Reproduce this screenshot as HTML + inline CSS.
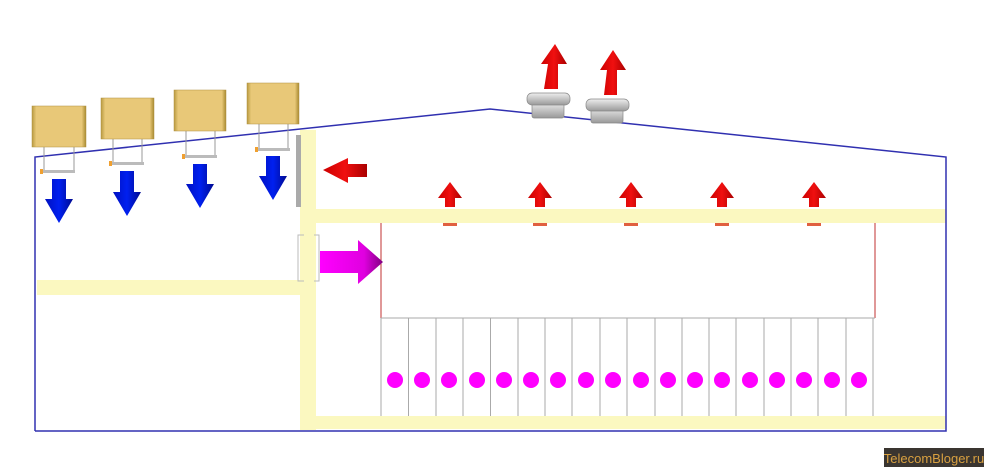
<!DOCTYPE html><html><head><style>body{margin:0;background:#fff}svg{display:block}</style></head><body>
<svg width="984" height="467" viewBox="0 0 984 467" xmlns="http://www.w3.org/2000/svg">
<defs>
<linearGradient id="bl" x1="0" x2="1"><stop offset="0" stop-color="#0010c0"/><stop offset=".5" stop-color="#0020f0"/><stop offset="1" stop-color="#000a90"/></linearGradient>
<linearGradient id="rd" x1="0" x2="1"><stop offset="0" stop-color="#c00"/><stop offset=".5" stop-color="#f01010"/><stop offset="1" stop-color="#a00"/></linearGradient>
<linearGradient id="mg" x1="0" x2="1"><stop offset="0" stop-color="#f0f"/><stop offset=".7" stop-color="#e000e0"/><stop offset="1" stop-color="#800080"/></linearGradient>
<linearGradient id="bx" x1="0" x2="1"><stop offset="0" stop-color="#b89a40"/><stop offset=".08" stop-color="#e8c878"/><stop offset=".92" stop-color="#e8c878"/><stop offset="1" stop-color="#a88a30"/></linearGradient>
<linearGradient id="gy" y1="0" y2="1" x1="0" x2="0"><stop offset="0" stop-color="#eee"/><stop offset="1" stop-color="#999"/></linearGradient>
</defs>
<!-- yellow walls -->
<g fill="#fbf8c0">
<rect x="300" y="130" width="16" height="300"/>
<rect x="316" y="209" width="630" height="14"/>
<rect x="37" y="280" width="263" height="15"/>
<rect x="300" y="416" width="646" height="13"/>
</g>
<!-- building outline -->
<polyline points="35,431 35,157 490,109 946,157 946,431 35,431" fill="none" stroke="#3030b0" stroke-width="1.5"/>
<!-- room outline -->
<line x1="381" y1="223" x2="381" y2="318" stroke="#c03030"/>
<line x1="875" y1="223" x2="875" y2="318" stroke="#c03030"/>
<line x1="381" y1="318" x2="875" y2="318" stroke="#aaa"/>
<g stroke="#aaa">
<line x1="381" y1="318" x2="381" y2="416"/><line x1="408.5" y1="318" x2="408.5" y2="416"/><line x1="436" y1="318" x2="436" y2="416"/><line x1="463" y1="318" x2="463" y2="416"/><line x1="490.5" y1="318" x2="490.5" y2="416"/><line x1="518" y1="318" x2="518" y2="416"/><line x1="545" y1="318" x2="545" y2="416"/><line x1="572" y1="318" x2="572" y2="416"/><line x1="600" y1="318" x2="600" y2="416"/><line x1="627" y1="318" x2="627" y2="416"/><line x1="655" y1="318" x2="655" y2="416"/><line x1="682" y1="318" x2="682" y2="416"/><line x1="709" y1="318" x2="709" y2="416"/><line x1="736" y1="318" x2="736" y2="416"/><line x1="764" y1="318" x2="764" y2="416"/><line x1="791" y1="318" x2="791" y2="416"/><line x1="818" y1="318" x2="818" y2="416"/><line x1="846" y1="318" x2="846" y2="416"/><line x1="873" y1="318" x2="873" y2="416"/>
</g>
<g fill="#f0f">
<circle cx="395" cy="380" r="8"/><circle cx="422" cy="380" r="8"/><circle cx="449" cy="380" r="8"/><circle cx="477" cy="380" r="8"/><circle cx="504" cy="380" r="8"/><circle cx="531" cy="380" r="8"/><circle cx="558" cy="380" r="8"/><circle cx="586" cy="380" r="8"/><circle cx="613" cy="380" r="8"/><circle cx="641" cy="380" r="8"/><circle cx="668" cy="380" r="8"/><circle cx="695" cy="380" r="8"/><circle cx="722" cy="380" r="8"/><circle cx="750" cy="380" r="8"/><circle cx="777" cy="380" r="8"/><circle cx="804" cy="380" r="8"/><circle cx="832" cy="380" r="8"/><circle cx="859" cy="380" r="8"/>
</g>
<!-- condensers -->
<g stroke="#999" stroke-width="1" fill="none">
<line x1="44" y1="146" x2="44" y2="170"/><line x1="74" y1="146" x2="74" y2="170"/>
<line x1="113" y1="138" x2="113" y2="162"/><line x1="142" y1="138" x2="142" y2="162"/>
<line x1="186" y1="130" x2="186" y2="155"/><line x1="215" y1="130" x2="215" y2="155"/>
<line x1="259" y1="123" x2="259" y2="148"/><line x1="288" y1="123" x2="288" y2="148"/>
</g>
<g fill="url(#bx)" stroke="#b09040" stroke-width=".5">
<rect x="32" y="106" width="54" height="41"/><rect x="101" y="98" width="53" height="41"/><rect x="174" y="90" width="52" height="41"/><rect x="247" y="83" width="52" height="41"/>
</g>
<g fill="#bbb"><rect x="43" y="170" width="32" height="3"/><rect x="112" y="162" width="32" height="3"/><rect x="185" y="155" width="32" height="3"/><rect x="258" y="148" width="32" height="3"/></g>
<g fill="#f0a030"><rect x="40" y="169" width="3" height="5"/><rect x="109" y="161" width="3" height="5"/><rect x="182" y="154" width="3" height="5"/><rect x="255" y="147" width="3" height="5"/></g>
<g fill="url(#bl)">
<polygon points="52,179 66,179 66,199 73,199 59,223 45,199 52,199"/>
<polygon points="120,171 134,171 134,192 141,192 127,216 113,192 120,192"/>
<polygon points="193,164 207,164 207,184 214,184 200,208 186,184 193,184"/>
<polygon points="266,156 280,156 280,176 287,176 273,200 259,176 266,176"/>
</g>
<rect x="296" y="135" width="5" height="72" fill="#aaa"/>
<polyline points="304,235 298,235 298,281 304,281" fill="none" stroke="#bbb"/>
<polyline points="314,235 319,235 319,281 314,281" fill="none" stroke="#bbb"/>
<polygon points="367,164 348,164 348,158 323,170 348,183 348,177 367,177" fill="url(#rd)"/>
<polygon points="320,251 358,251 358,240 383,262 358,284 358,273 320,273" fill="url(#mg)"/>
<!-- roof fans -->
<g fill="url(#gy)" stroke="#888" stroke-width=".7">
<rect x="532" y="102" width="32" height="16" rx="2"/><rect x="527" y="93" width="43" height="12" rx="5"/>
<rect x="591" y="107" width="32" height="16" rx="2"/><rect x="586" y="99" width="43" height="12" rx="5"/>
</g>
<g fill="url(#rd)">
<polygon points="544,89 558,89 558,64 567,64 555,44 541,64 548,64"/>
<polygon points="604,95 617,95 617,70 626,70 613,50 600,70 607,70"/>
<polygon points="445,207 455,207 455,198 462,198 450,182 438,198 445,198"/>
<polygon points="535,207 545,207 545,198 552,198 540,182 528,198 535,198"/>
<polygon points="626,207 636,207 636,198 643,198 631,182 619,198 626,198"/>
<polygon points="717,207 727,207 727,198 734,198 722,182 710,198 717,198"/>
<polygon points="809,207 819,207 819,198 826,198 814,182 802,198 809,198"/>
</g>
<g fill="#e06040"><rect x="443" y="223" width="14" height="3"/><rect x="533" y="223" width="14" height="3"/><rect x="624" y="223" width="14" height="3"/><rect x="715" y="223" width="14" height="3"/><rect x="807" y="223" width="14" height="3"/></g>
<rect x="884" y="448" width="100" height="19" fill="#3a3530"/>
<text x="934" y="463" text-anchor="middle" font-family="Liberation Sans, sans-serif" font-size="13" fill="#d8a040">TelecomBloger.ru</text>
</svg>
</body></html>
